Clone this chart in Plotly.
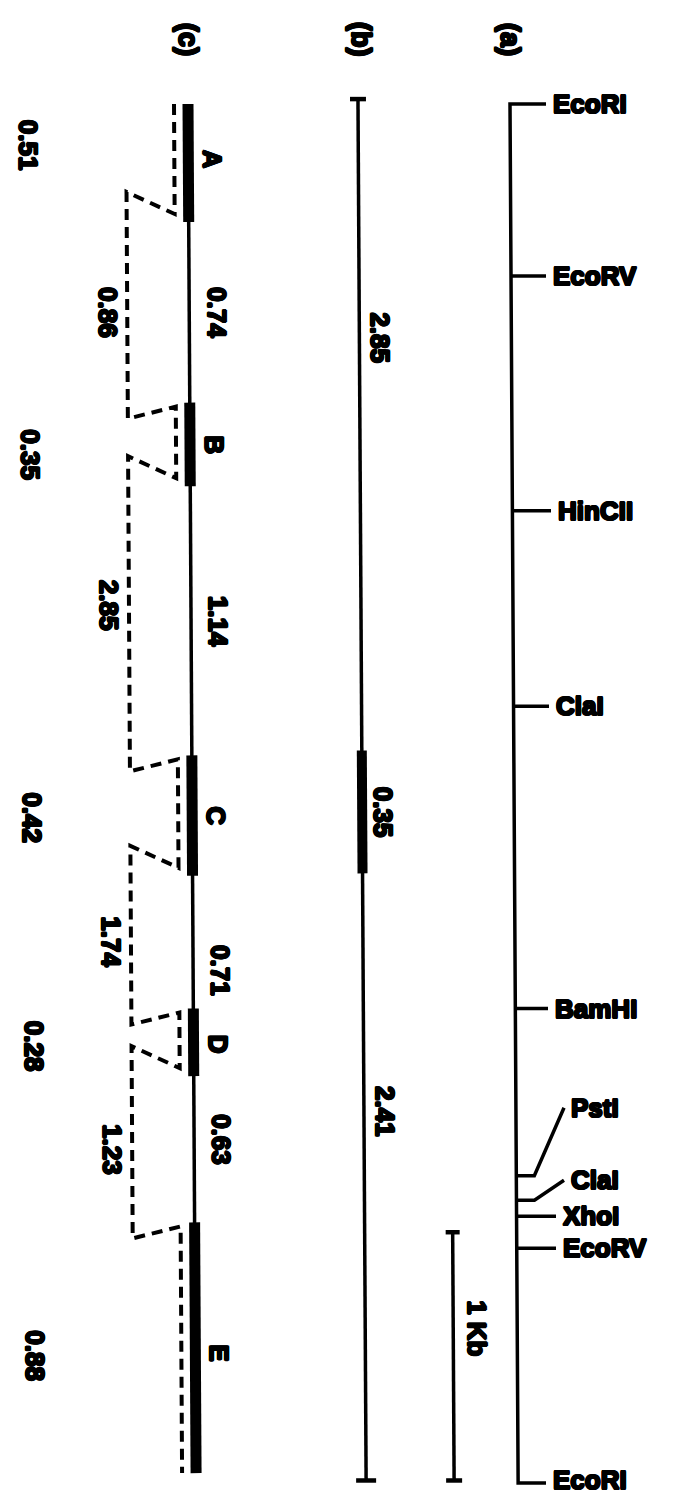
import plotly.graph_objects as go

W, H = 676, 1497
PX_PER_KB = 245.8   # vertical scale of the picture
Y0_PX = 96          # pixel row of the 0 kb (top EcoRI) position

# ---------------- data (kb positions) ----------------
# (a) restriction map
site_names = ["EcoRI", "EcoRV", "HinCII", "ClaI", "BamHI", "PstI", "ClaI", "XhoI", "EcoRV", "EcoRI"]
site_kb = [0.00, 0.70, 1.655, 2.45, 3.68, 4.36, 4.46, 4.525, 4.655, 5.61]

# (b) fragment
b_bounds_kb = [-0.02, 2.63, 3.13, 5.60]
b_labels = ["2.85", "0.35", "2.41"]

# (c) gene structure
exon_names = ["A", "B", "C", "D", "E"]
exon_start_kb = [0.00, 1.215, 2.65, 3.68, 4.55]
exon_end_kb = [0.48, 1.555, 3.14, 3.955, 5.57]
exon_sizes = ["0.51", "0.35", "0.42", "0.28", "0.88"]
intron_sizes = ["0.74", "1.14", "0.71", "0.63"]
dashed_sizes = ["0.86", "2.85", "1.74", "1.23"]

# scale bar
scale_kb = [4.59, 5.60]
scale_label = "1 Kb"

# ---------------- layout helpers ----------------
TILT = 1.45  # px per kb (the scan is slightly skewed)


def lane(base, kb):
    return base + TILT * kb


def px(d):
    return d / PX_PER_KB


XA, XB, XC = 502, 350, 180
X_EXDASH, X_INDASH = 166, 118

SHADOW = ("1px 0 0 #000, -1px 0 0 #000, 0 1px 0 #000, 0 -1px 0 #000, "
          "0.7px 0.7px 0 #000, -0.7px -0.7px 0 #000, 0.7px -0.7px 0 #000, -0.7px 0.7px 0 #000")
FONT = dict(family="Liberation Sans", size=26, color="black", weight="bold", shadow=SHADOW)
INK = "black"

fig = go.Figure()


def line(xs, ys, width=3.5, dash=None):
    fig.add_trace(go.Scatter(x=xs, y=ys, mode="lines", hoverinfo="skip",
                             line=dict(color=INK, width=width, dash=dash),
                             showlegend=False))


def vtext(x, y, text, size=26, yref="y"):
    f = dict(FONT)
    f["size"] = size
    fig.add_annotation(x=x, y=y, text=text, textangle=90, showarrow=False,
                       xref="x", yref=yref, xanchor="center", yanchor="middle", font=f)


# ---------------- (a) ----------------
k0, k1 = site_kb[0], site_kb[-1]
line([538, lane(XA, k0), lane(XA, k1), 538], [k0, k0, k1, k1], width=3.5)
label_shift_px = [0, 0, 0, 0, 0, -68, -20, 0, 0, -3]
label_x = [543, 543, 548, 546, 545, 561, 561, 553, 553, 543]
for i, (name, kb) in enumerate(zip(site_names, site_kb)):
    lx = lane(XA, kb)
    ly = kb + px(label_shift_px[i])
    if 0 < i < len(site_kb) - 1:
        if label_shift_px[i] != 0:
            line([lx, lx + 18, label_x[i] - 5], [kb, kb, ly], width=3.5)
        else:
            line([lx, label_x[i] - 5], [kb, kb], width=3.5)
    fig.add_annotation(x=label_x[i], y=ly, text=name, showarrow=False, xanchor="left",
                       yanchor="middle", font=dict(FONT, size=26))

# ---------------- (b) ----------------
bt, bs, be, bb = b_bounds_kb
line([lane(XB, bt), lane(XB, bb)], [bt, bb], width=3.5)
line([lane(XB, bs), lane(XB, be)], [bs, be], width=10)
line([lane(XB, bt) - 8, lane(XB, bt) + 8], [bt, bt], width=4.5)
line([lane(XB, bb) - 10, lane(XB, bb) + 10], [bb, bb], width=4.5)
b_shift_px = [-87, 0, -65]
b_mid = [(bt + bs) / 2, (bs + be) / 2, (be + bb) / 2]
for t, m, d in zip(b_labels, b_mid, b_shift_px):
    y = m + px(d)
    vtext(lane(XB, y) + 21, y, t)

# ---------------- (c) ----------------
c0, c1 = exon_start_kb[0], exon_end_kb[-1]
line([lane(XC, c0), lane(XC, c1)], [c0, c1], width=3.5)
for s, e in zip(exon_start_kb, exon_end_kb):
    line([lane(XC, s), lane(XC, e)], [s, e], width=11)
letter_shift_px = [-4, 0, 0, 2, 5]
for n, s, e, d in zip(exon_names, exon_start_kb, exon_end_kb, letter_shift_px):
    m = (s + e) / 2 + px(d)
    vtext(lane(XC, m) + 24, m, n)
size_shift_px = [-18, 10, 2, 4, 8]
for t, s, e, d in zip(exon_sizes, exon_start_kb, exon_end_kb, size_shift_px):
    m = (s + e) / 2 + px(d)
    vtext(lane(20, m), m, t)
intron_shift_px = [0, 0, 28, -10]
for i, t in enumerate(intron_sizes):
    m = (exon_end_kb[i] + exon_start_kb[i + 1]) / 2 + px(intron_shift_px[i])
    vtext(lane(XC, m) + 27, m, t)

# dashed alignment path
dx, dy = [], []
for i in range(len(exon_start_kb)):
    s, e = exon_start_kb[i], exon_end_kb[i]
    if i == 0:
        dx += [lane(X_EXDASH, s)]
        dy += [s]
    else:
        dx += [lane(X_INDASH, s + px(16)), lane(X_EXDASH, s + px(4))]
        dy += [s + px(16), s + px(4)]
    if i == len(exon_start_kb) - 1:
        dx += [lane(X_EXDASH, e)]
        dy += [e]
    else:
        dx += [lane(X_EXDASH, e - px(8)), lane(X_INDASH, e - px(30))]
        dy += [e - px(8), e - px(30)]
line(dx, dy, width=4, dash="11px,7px")
dashed_shift_px = [0, -15, 0, 0]
for i, t in enumerate(dashed_sizes):
    m = (exon_end_kb[i] + exon_start_kb[i + 1]) / 2 + px(dashed_shift_px[i])
    vtext(lane(X_INDASH, m) - 20, m, t)

# ---------------- scale bar ----------------
s0, s1 = scale_kb
XS = 438
line([lane(XS, s0), lane(XS, s1)], [s0, s1], width=3.5)
line([lane(XS, s0) - 7, lane(XS, s0) + 7], [s0, s0], width=4.5)
line([lane(XS, s1) - 8, lane(XS, s1) + 8], [s1, s1], width=4.5)
sm = (s0 + s1) / 2 - px(28)
vtext(lane(XS, sm) + 23, sm, scale_label)

# ---------------- panel titles ----------------
for t, xb in zip(["(c)", "(b)", "(a)"], [XC, XB + 3, XA]):
    vtext(xb, 1 - 31 / H, t, size=27, yref="paper")

ytop = (0 - Y0_PX) / PX_PER_KB
ybot = (H - Y0_PX) / PX_PER_KB
fig.update_layout(
    width=W, height=H, margin=dict(l=0, r=0, t=0, b=0),
    paper_bgcolor="white", plot_bgcolor="white",
    xaxis=dict(range=[0, W], visible=False, fixedrange=True),
    yaxis=dict(range=[ybot, ytop], visible=False, fixedrange=True),
    showlegend=False,
)
fig.write_html("out.html")
